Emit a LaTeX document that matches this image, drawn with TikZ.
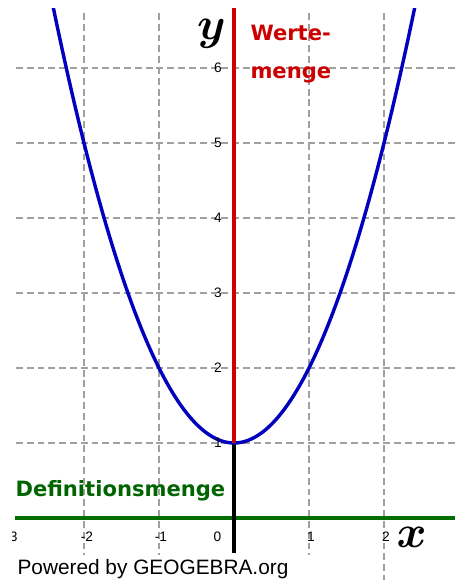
\documentclass[tikz,border=0pt]{standalone}
\usepackage{bm}
\usepackage{fontspec}
\setmainfont{Liberation Sans}
\newfontfamily\dejavu{DejaVu Sans}
\definecolor{gblue}{RGB}{0,0,190}
\definecolor{gred}{RGB}{204,0,0}
\definecolor{ggreen}{RGB}{0,110,0}
\definecolor{gtext}{RGB}{0,100,0}
\definecolor{ggray}{RGB}{160,160,160}
\begin{document}
\begin{tikzpicture}[x=1cm,y=1cm,
  gridline/.style={draw=ggray, line width=0.6pt, dash pattern=on 2.6pt off 1.5pt},
  ticklab/.style={font=\fontsize{5.2}{6}\selectfont, inner sep=0pt},
  setlab/.style={font=\dejavu\bfseries\fontsize{8}{14.4}\selectfont, inner sep=0pt, align=left},
  axlab/.style={inner sep=0pt}]
\useasboundingbox (-3.12,-0.8267) rectangle (3.0,6.9067);
\begin{scope}
\clip (-2.947,-0.8267) rectangle (3.0,6.787);
% grid
\foreach \k in {1,...,6} \draw[gridline] (-2.907,\k) -- (3.0,\k);
\foreach \k in {-2,-1,1} \draw[gridline] (\k,6.733) -- (\k,-0.49);
\draw[gridline] (2,6.733) -- (2,-0.8267);
% axes
\coordinate (xleft) at (-2.92,0);
\coordinate (xright) at (2.947,0);
\coordinate (one) at (0,1);
\coordinate (ytop) at (0,6.9);
\coordinate (ybot) at (0,-0.467);
\draw[ggreen, line width=1.5pt] (xleft) -- (xright);
\draw[black, line width=1.3pt] (one) -- (ybot);
% curve
\draw[gblue, line width=1.3pt, domain=-2.5:2.5, samples=121, smooth] plot (\x,{\x*\x+1});
\draw[gred, line width=1.6pt] (one) -- (ytop);
% tick labels
\foreach \k in {1,...,6} \node[ticklab] (yt\k) at (-0.213,\k) {\k};
\node[ticklab] (xtm3) at (-2.967,-0.253) {-3};
\node[ticklab] (xtm2) at (-1.96,-0.253) {-2};
\node[ticklab] (xtm1) at (-0.973,-0.253) {-1};
\node[ticklab] (xt0) at (-0.22,-0.253) {0};
\node[ticklab] (xt1) at (1.027,-0.253) {1};
\node[ticklab] (xt2) at (2.027,-0.253) {2};
\end{scope}
% axis labels
\node[axlab, font=\fontsize{17}{20}\selectfont] (xlab) at (2.367,-0.26) {$\bm{x}$};
\node[axlab, font=\fontsize{19}{24}\selectfont] (ylab) at (-0.3,6.45) {$\bm{y}$};
% set labels
\node[setlab, text=gtext, anchor=base west] (defm) at (-2.92,0.28) {Definitionsmenge};
\node[setlab, text=gred, anchor=north west] (wm) at (0.213,6.573) {Werte-\\menge};
\node[anchor=base west, inner sep=0pt, font=\fontsize{7.9}{9}\selectfont] (pow) at (-2.893,-0.76) {Powered by GEOGEBRA.org};
\end{tikzpicture}
\end{document}
